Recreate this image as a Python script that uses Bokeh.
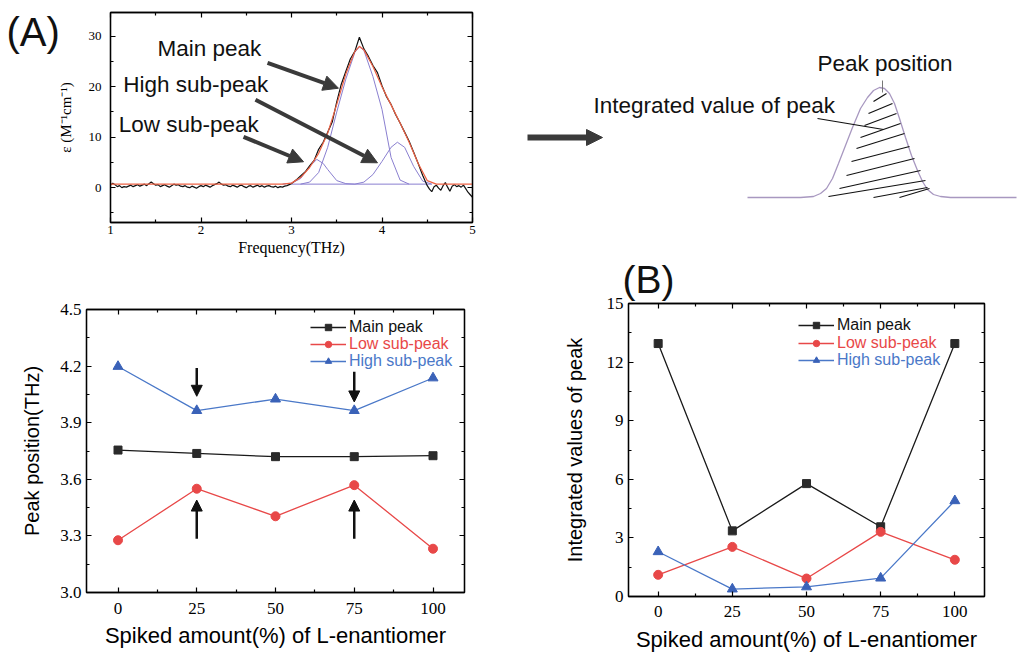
from bokeh.plotting import figure
from bokeh.models import (Range1d, LinearAxis, FixedTicker, Label, Arrow,
                          NormalHead, Legend, LegendItem)
from bokeh.layouts import row, column
from bokeh.embed import file_html
from bokeh.resources import INLINE

SANS = "Liberation Sans"
SERIF = "Liberation Serif"

# ---------------- data: panel (A) spectrum ----------------
freq_base = [1.000, 1.025, 1.050, 1.075, 1.100, 1.125, 1.150, 1.175, 1.200, 1.225,
             1.250, 1.275, 1.300, 1.325, 1.350, 1.375, 1.400, 1.425, 1.450, 1.475,
             1.500, 1.525, 1.550, 1.575, 1.600, 1.625, 1.650, 1.675, 1.700, 1.725,
             1.750, 1.775, 1.800, 1.825, 1.850, 1.875, 1.900, 1.925, 1.950, 1.975,
             2.000, 2.025, 2.050, 2.075, 2.100, 2.125, 2.150, 2.175, 2.200, 2.225,
             2.250, 2.275, 2.300, 2.325, 2.350, 2.375, 2.400, 2.425, 2.450, 2.475,
             2.500, 2.525, 2.550, 2.575, 2.600, 2.625, 2.650, 2.675, 2.700, 2.725,
             2.750, 2.775, 2.800, 2.825, 2.850, 2.875, 2.900, 2.925, 2.950, 2.975]
eps_base = [0.5, 0.9, 0.6, 0.2, 0.4, 0.0, 0.2, 0.1, 0.3, 0.5,
            0.2, 0.4, 0.6, 0.3, 0.5, 0.7, 0.4, 0.8, 1.1, 0.8,
            0.5, 0.6, 0.2, 0.4, 0.6, 0.3, 0.1, 0.4, 0.7, 0.5,
            0.6, 0.3, 0.2, 0.4, 0.1, 0.0, 0.3, 0.1, -0.1, 0.2,
            0.4, 0.2, 0.5, 0.3, 0.1, 0.4, 0.6, 0.8, 1.1, 0.7,
            0.5, 0.6, 0.3, 0.2, 0.5, 0.3, 0.1, 0.4, 0.5, 0.2,
            0.0, 0.3, 0.4, 0.1, 0.3, 0.5, 0.2, 0.4, 0.1, 0.3,
            0.4, 0.2, 0.1, 0.3, 0.0, 0.2, 0.1, 0.3, 0.4, 0.6]
freq_peak = [3.00, 3.05, 3.10, 3.15, 3.20, 3.25, 3.30, 3.35, 3.40, 3.45,
             3.50, 3.55, 3.60, 3.65, 3.70, 3.75, 3.80, 3.85, 3.90, 3.95,
             4.00, 4.05, 4.10, 4.15, 4.20, 4.25, 4.30, 4.35, 4.40, 4.45]
eps_peak = [0.8, 1.5, 2.3, 3.1, 4.3, 5.4, 7.6, 9.0, 11.0, 13.0,
            17.0, 20.5, 23.0, 25.5, 27.0, 29.8, 27.5, 26.0, 24.2, 22.8,
            20.2, 18.0, 16.5, 14.5, 12.8, 11.0, 9.2, 7.0, 4.8, 2.4]
freq_tail = [4.500, 4.525, 4.550, 4.575, 4.600, 4.625, 4.650, 4.675, 4.700, 4.725,
             4.750, 4.775, 4.800, 4.825, 4.850, 4.875, 4.900, 4.925, 4.950, 4.975, 5.000]
eps_tail = [0.4, -0.3, -0.8, 0.2, 0.5, -0.1, -0.5, 0.4, 1.0, 0.1,
            -0.7, 0.3, 0.6, 0.2, 0.4, 0.1, 0.5, -0.2, -0.9, -1.4, -1.9]

fit_freq = [1.0, 2.9, 3.0, 3.1, 3.2, 3.3, 3.4, 3.5, 3.6, 3.7, 3.75, 3.8,
            3.9, 4.0, 4.1, 4.2, 4.3, 4.4, 4.5, 4.6, 5.0]
fit_eps = [0.7, 0.7, 0.9, 2.0, 4.0, 6.8, 10.8, 16.5, 22.5, 27.0, 28.0, 27.3,
           24.0, 20.0, 16.4, 12.8, 9.0, 4.8, 1.4, 0.7, 0.7]

low_freq = [2.9, 3.0, 3.1, 3.2, 3.28, 3.35, 3.4, 3.5, 3.6, 3.7]
low_eps = [0.7, 0.9, 1.8, 4.2, 5.6, 4.8, 3.6, 1.4, 0.8, 0.7]
main_freq = [3.1, 3.2, 3.3, 3.4, 3.5, 3.6, 3.7, 3.75, 3.8, 3.9, 4.0, 4.1, 4.2, 4.3]
main_eps = [0.7, 1.1, 3.0, 8.0, 15.0, 21.5, 26.8, 27.9, 27.2, 22.0, 15.5, 6.0, 1.5, 0.7]
high_freq = [3.7, 3.8, 3.9, 4.0, 4.1, 4.17, 4.25, 4.35, 4.45, 4.55]
high_eps = [0.7, 1.1, 2.6, 5.2, 8.0, 9.0, 8.0, 4.2, 1.3, 0.7]
comp_base_freq = [3.0, 4.55]
comp_base_eps = [0.7, 0.7]

# ---------------- data: summary panels ----------------
spiked = [0, 25, 50, 75, 100]
pos_main = [3.755, 3.737, 3.72, 3.72, 3.725]
pos_low = [3.277, 3.55, 3.404, 3.569, 3.232]
pos_high = [4.198, 3.964, 4.025, 3.964, 4.137]
int_main = [12.95, 3.36, 5.78, 3.57, 12.95]
int_low = [1.11, 2.54, 0.92, 3.31, 1.88]
int_high = [2.29, 0.38, 0.49, 0.94, 4.90]
series_names = ["Main peak", "Low sub-peak", "High sub-peak"]

# tick labels
freq_ticks = [1, 2, 3, 4, 5]
eps_ticks = [0, 10, 20, 30]
spiked_ticks = [0, 25, 50, 75, 100]
pos_ticks = [3.0, 3.3, 3.6, 3.9, 4.2, 4.5]
pos_tick_labels = ["3.0", "3.3", "3.6", "3.9", "4.2", "4.5"]
int_ticks = [0, 3, 6, 9, 12, 15]

# ---------------- schematic (illustration, page pixels) ----------------
sch_peak_x = [747, 800, 813, 820, 826, 832, 838, 845, 852, 860, 867, 873, 879, 884,
              889, 894, 899, 905, 911, 917, 922, 927, 933, 940, 950, 1016]
sch_peak_y = [197, 197, 196, 193, 188, 178, 163, 145, 127, 108, 97, 90, 87, 88,
              93, 103, 118, 137, 155, 170, 181, 189, 194, 196, 197, 197]
hatch_x0 = [873, 868, 864, 860, 856, 851, 846, 839, 828, 873, 899]
hatch_y0 = [101, 113, 125, 137, 148, 161, 175, 188, 196, 197, 197]
hatch_x1 = [886, 892, 896, 900, 904, 909, 914, 920, 925, 927, 929]
hatch_y1 = [93, 103, 113, 123, 133, 146, 158, 170, 180, 187, 188]

BLACK = "#1a1a1a"
RED = "#e84848"
BLUE = "#4a78c8"
BLUE_M = "#3a62b8"
ARROW_GRAY = "#3a3a3a"


def style_axis(ax, ticks, minor, font, size, show=True):
    ax.ticker = FixedTicker(ticks=ticks, minor_ticks=minor)
    ax.major_tick_in = 5
    ax.major_tick_out = 0
    ax.minor_tick_in = 3
    ax.minor_tick_out = 0
    ax.axis_line_color = "black"
    ax.axis_line_width = 1.3
    ax.major_tick_line_color = "black"
    ax.minor_tick_line_color = "black"
    ax.major_tick_line_width = 1.2
    ax.minor_tick_line_width = 1.2
    ax.major_label_text_font = font
    ax.major_label_text_font_size = size
    ax.major_label_text_color = "black"
    ax.axis_label_text_font_style = "normal"
    ax.axis_label_text_color = "black"
    if not show:
        ax.major_label_text_alpha = 0
        ax.major_label_text_font_size = "1px"
        ax.major_label_standoff = 0


def framed(p, xt, xm, yt, ym, font, size):
    p.xgrid.visible = False
    p.ygrid.visible = False
    p.outline_line_color = "black"
    p.outline_line_width = 1.3
    p.background_fill_alpha = 0
    p.border_fill_alpha = 0
    bottom = p.below[0]
    left = p.left[0]
    style_axis(bottom, xt, xm, font, size)
    style_axis(left, yt, ym, font, size)
    top = LinearAxis()
    right = LinearAxis()
    style_axis(top, xt, xm, font, size, show=False)
    style_axis(right, yt, ym, font, size, show=False)
    p.add_layout(top, "above")
    p.add_layout(right, "right")
    return bottom, left


def canvas_fig(width, height, x0, y0):
    """A blank figure whose data coordinates equal page pixels."""
    p = figure(width=width, height=height, x_range=Range1d(x0, x0 + width),
               y_range=Range1d(y0 + height, y0), output_backend="svg",
               toolbar_location=None, title=None, x_axis_type=None, y_axis_type=None,
               min_border=0, outline_line_color=None, frame_align=False)
    p.xgrid.visible = False
    p.ygrid.visible = False
    p.background_fill_alpha = 0
    p.border_fill_alpha = 0
    return p


# ================= panel A: spectrum =================
pAlab = canvas_fig(80, 258, 0, 0)
pAlab.add_layout(Label(x=6, y=31, text="(A)", text_font=SANS, text_font_size="40px",
                       text_color="#111111", text_baseline="alphabetic"))

pA = figure(width=500, height=258, x_range=Range1d(1, 5), y_range=Range1d(-6.9, 34.7),
            output_backend="svg", toolbar_location=None, title=None, frame_align=False,
            min_border_left=110, min_border_right=28, min_border_top=12, min_border_bottom=35)
pA.margin = (0, 0, 0, -80)
axb, axl = framed(pA, freq_ticks, [1.5, 2.5, 3.5, 4.5], eps_ticks, [-5, 5, 15, 25], SERIF, "13px")
axb.axis_label = "Frequency(THz)"
axb.axis_label_text_font = SERIF
axb.axis_label_text_font_size = "16px"
axb.axis_label_standoff = 2
axb.major_label_standoff = 3
axl.axis_label = "ε (M⁻¹cm⁻¹)"
axl.axis_label_text_font = SERIF
axl.axis_label_text_font_size = "15px"
axl.axis_label_standoff = 12
axl.major_label_standoff = 9

COMP = "#8a7fd0"
for fx, fy in [(low_freq, low_eps), (main_freq, main_eps), (high_freq, high_eps),
               (comp_base_freq, comp_base_eps)]:
    pA.line(fx, fy, line_color=COMP, line_width=1.0)
pA.line(freq_base + freq_peak + freq_tail, eps_base + eps_peak + eps_tail,
        line_color="#111111", line_width=1.2)
pA.line(fit_freq, fit_eps, line_color="#ee6244", line_width=1.2)

for txt, x, y in [("Main peak", 1.52, 27.65), ("High sub-peak", 1.14, 20.4),
                  ("Low sub-peak", 1.09, 12.5)]:
    pA.add_layout(Label(x=x, y=y, text=txt, text_font=SANS, text_font_size="22.5px",
                        text_color="#111111", text_align="left", text_baseline="alphabetic"))
for xs, ys, xe, ye in [(2.735, 24.7, 3.519, 19.7), (2.602, 17.4, 3.95, 4.93),
                       (2.47, 10.07, 3.133, 5.13)]:
    pA.add_layout(Arrow(end=NormalHead(size=15, fill_color=ARROW_GRAY, line_color=ARROW_GRAY),
                        x_start=xs, y_start=ys, x_end=xe, y_end=ye,
                        line_color=ARROW_GRAY, line_width=4))

# ================= schematic =================
pS = canvas_fig(518, 258, 500, 0)
pS.line(sch_peak_x, sch_peak_y, line_color="#a898c0", line_width=1.3)
pS.segment(hatch_x0, hatch_y0, hatch_x1, hatch_y1, line_color="#111111", line_width=1.2)
pS.segment([817], [118], [883], [129], line_color="#111111", line_width=1.2)
pS.segment([882], [80], [882], [92], line_color="#777777", line_width=1.0)
pS.add_layout(Arrow(end=NormalHead(size=16, fill_color=ARROW_GRAY, line_color=ARROW_GRAY),
                    x_start=527, y_start=137, x_end=602, y_end=137,
                    line_color=ARROW_GRAY, line_width=6))
pS.add_layout(Label(x=817, y=63, text="Peak position", text_font=SANS, text_font_size="22.5px",
                    text_color="#111111", text_baseline="alphabetic"))
pS.add_layout(Label(x=593, y=104.7, text="Integrated value of peak", text_font=SANS,
                    text_font_size="22.5px", text_color="#111111", text_baseline="alphabetic"))


def summary(width, borders, yrange, yticks, yminor, ylabel, ys, legend_xy, label_standoff,
            tick_standoff, xlabel_standoff):
    left, right, top, bottom = borders
    p = figure(width=width, height=400, x_range=Range1d(-10, 110), y_range=Range1d(*yrange),
               output_backend="svg", toolbar_location=None, title=None, frame_align=False,
               min_border_left=left, min_border_right=right,
               min_border_top=top, min_border_bottom=bottom)
    axb, axl = framed(p, spiked_ticks, [12.5, 37.5, 62.5, 87.5], yticks, yminor, SERIF, "17px")
    axb.axis_label = "Spiked amount(%) of L-enantiomer"
    axb.axis_label_text_font = SANS
    axb.axis_label_text_font_size = "22px"
    axb.major_label_standoff = tick_standoff
    axb.axis_label_standoff = xlabel_standoff
    axl.axis_label = ylabel
    axl.axis_label_text_font = SANS
    axl.axis_label_text_font_size = "20px"
    axl.major_label_standoff = 5
    axl.axis_label_standoff = label_standoff
    colors = [BLACK, RED, BLUE]
    mcolors = ["#2a2a2a", RED, BLUE_M]
    markers = ["square", "circle", "triangle"]
    msizes = [8, 9, 10]
    lx, lys = legend_xy
    for i, vals in enumerate(ys):
        ln = p.line(spiked, vals, line_color=colors[i], line_width=1.3)
        sc = p.scatter(spiked, vals, marker=markers[i], size=msizes[i],
                       fill_color=mcolors[i], line_color=mcolors[i])
        lg = Legend(items=[LegendItem(label=series_names[i], renderers=[ln, sc])],
                    location=(lx, lys[i]), label_text_font=SANS, label_text_font_size="16px",
                    label_text_color=colors[i] if i else "#111111",
                    glyph_width=36, glyph_height=16, label_height=16,
                    label_standoff=3, padding=0, margin=0, spacing=0,
                    background_fill_alpha=0, border_line_alpha=0)
        p.add_layout(lg)
    return p, axb, axl


pC, cb, cl = summary(500, (86, 36, 51, 66), (3.0, 4.5), pos_ticks, [3.15, 3.45, 3.75, 4.05, 4.35],
                     "Peak position(THz)", [pos_main, pos_low, pos_high], (224, [256, 239, 222]),
                     14, 10, 6)
cl.major_label_overrides = {t: s for t, s in zip(pos_ticks, pos_tick_labels)}
for xs, ys, xe, ye in [(25, 4.19, 25, 4.04), (75, 4.17, 75, 4.01),
                       (25, 3.285, 25, 3.49), (75, 3.285, 75, 3.49)]:
    pC.add_layout(Arrow(end=NormalHead(size=11, fill_color="#111111", line_color="#111111"),
                        x_start=xs, y_start=ys, x_end=xe, y_end=ye,
                        line_color="#111111", line_width=2.5))

pBlab = canvas_fig(200, 400, 500, 258)
pBlab.add_layout(Label(x=622, y=278.7, text="(B)", text_font=SANS, text_font_size="39px",
                       text_color="#111111", text_baseline="alphabetic"))

pB, bb, bl = summary(518, (128, 34, 45, 62), (0, 15), int_ticks, [1.5, 4.5, 7.5, 10.5, 13.5],
                     "Integrated values of peak", [int_main, int_low, int_high],
                     (170, [262, 244, 227]), 18, 9, 7)
pB.margin = (0, 0, 0, -200)

layout = column(row(pAlab, pA, pS, spacing=0), row(pC, pBlab, pB, spacing=0), spacing=0)
open("out.html", "w").write(file_html(layout, INLINE))
